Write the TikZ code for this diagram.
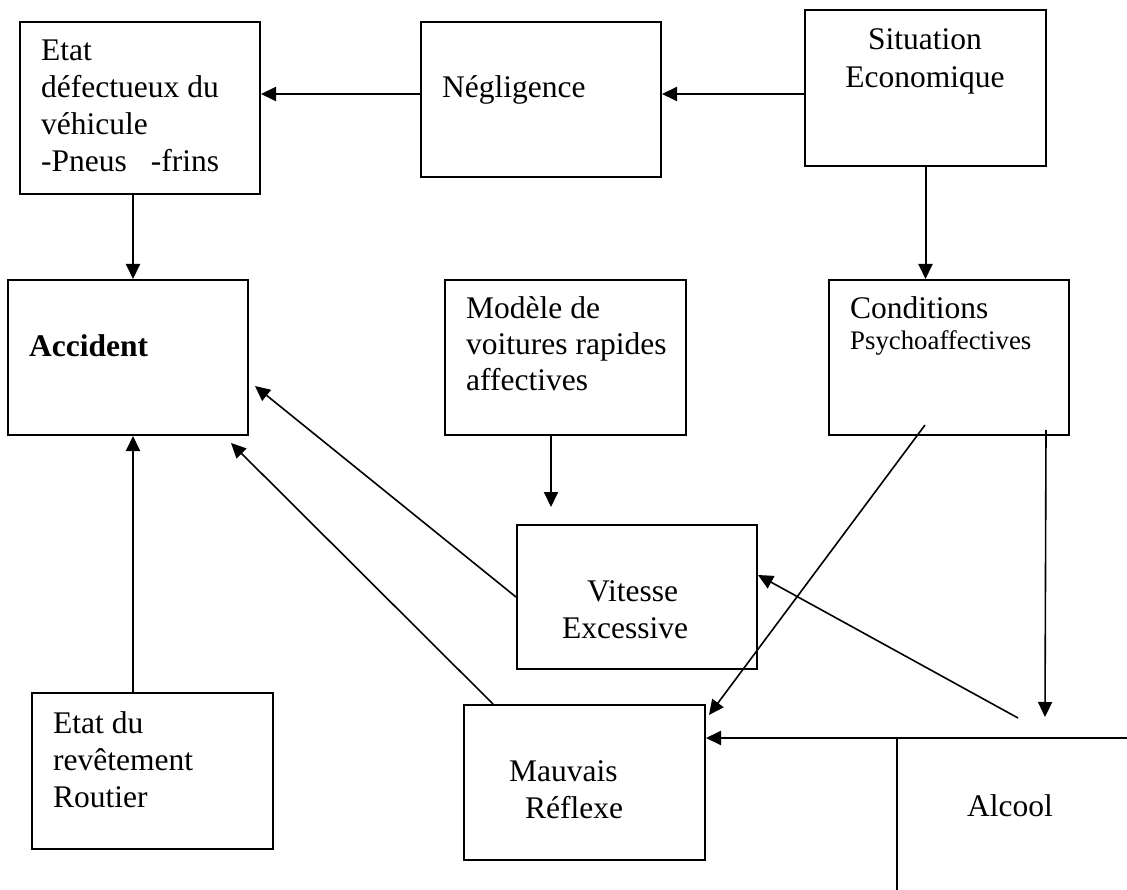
\documentclass[tikz,border=0pt]{standalone}
\usepackage{fontspec}
\setmainfont{Liberation Serif}
\usetikzlibrary{arrows.meta,calc}
\begin{document}
\begin{tikzpicture}[x=1pt,y=-1pt,
  box/.style={draw, line width=2pt, rectangle, inner sep=0pt, minimum width=240pt, minimum height=155pt},
  txt/.style={anchor=base west, inner sep=0pt, font=\fontsize{31.5}{37}\selectfont},
  smalltxt/.style={anchor=base west, inner sep=0pt, font=\fontsize{26.8}{32}\selectfont},
  arr/.style={line width=2pt, -{Triangle[length=15pt,width=14pt]}},
  darr/.style={line width=1.6pt, -{Triangle[length=15pt,width=14pt]}},
  ln/.style={line width=2pt}]
\useasboundingbox (0,0) rectangle (1127,890);
% boxes
\node[box, minimum width=240.5pt, minimum height=172pt] (etat) at (139.75,108) {};
\node[box] (neg) at (541,99.5) {};
\node[box, minimum width=241pt, minimum height=156pt] (sit) at (925.5,88) {};
\node[box] (acc) at (128,357.5) {};
\node[box, minimum width=241pt] (mod) at (565.5,357.5) {};
\node[box] (cond) at (949,357.5) {};
\node[box, minimum height=144pt] (vit) at (637,597) {};
\node[box, minimum width=241pt, minimum height=156pt] (rev) at (152.5,771) {};
\node[box, minimum width=241pt] (mauv) at (584.5,782.5) {};
\coordinate (alc) at (897,738);
\coordinate (alcR) at (1127,738);
\coordinate (alcB) at (897,890);
% texts
\node[txt] (e1) at (41,61) {Etat};
\node[txt] (e2) at (41,98) {défectueux du};
\node[txt] (e3) at (41,135) {véhicule};
\node[txt] (e4) at (41,172) {-Pneus\hspace{24pt}-frins};
\node[txt] (n1) at (442,98) {Négligence};
\node[txt, anchor=base] (s1) at (925,50) {Situation};
\node[txt, anchor=base] (s2) at (925,88) {Economique};
\node[txt, font=\fontsize{31.5}{37}\selectfont\bfseries] (a1) at (29,357) {Accident};
\node[txt] (m1) at (466,319) {Modèle de};
\node[txt] (m2) at (466,355) {voitures rapides};
\node[txt] (m3) at (466,391) {affectives};
\node[txt] (c1) at (850,319) {Conditions};
\node[smalltxt] (c2) at (850,350) {Psychoaffectives};
\node[txt] (v1) at (587,601) {Vitesse};
\node[txt] (v2) at (562,638) {Excessive};
\node[txt] (r1) at (53,733) {Etat du};
\node[txt] (r2) at (53,770) {revêtement};
\node[txt] (r3) at (53,807) {Routier};
\node[txt] (mr1) at (509,781) {Mauvais};
\node[txt] (mr2) at (525,818) {Réflexe};
\node[txt] (al) at (967,816) {Alcool};
% connectors
\draw[arr] ($(neg.west)+(0,-5.5)$) -- ($(etat.east)+(0,-14)$);
\draw[arr] ($(sit.west)+(0,6)$) -- ($(neg.east)+(0,-5.5)$);
\draw[arr] ($(etat.south)+(-6.75,0)$) -- ($(acc.north)+(5,0)$);
\draw[arr] (sit.south) -- (sit.south |- cond.north);
\draw[arr] ($(mod.south)+(-14.5,0)$) -- ($(vit.north)+(-86,-17)$);
\draw[arr] ($(rev.north)+(-19.5,0)$) -- ($(acc.south)+(5,0)$);
\draw[darr] (vit.west) -- ($(acc.east)+(6,28.5)$);
\draw[darr] ($(mauv.north)+(-91.5,0)$) -- ($(acc.south east)+(-18,7)$);
\draw[darr] ($(cond.south)+(-24,-11)$) -- ($(mauv.north east)+(3,11)$);
\draw[darr] ($(cond.south east)+(-24,-6)$) -- ($(alc)+(148,-21)$);
\draw[darr] ($(alc)+(121,-20)$) -- ($(vit.east)+(0,-22)$);
\draw[arr] (alc) -- (alc -| mauv.east);
\draw[ln] (alcR) -- (alc) -- (alcB);
\end{tikzpicture}
\end{document}
